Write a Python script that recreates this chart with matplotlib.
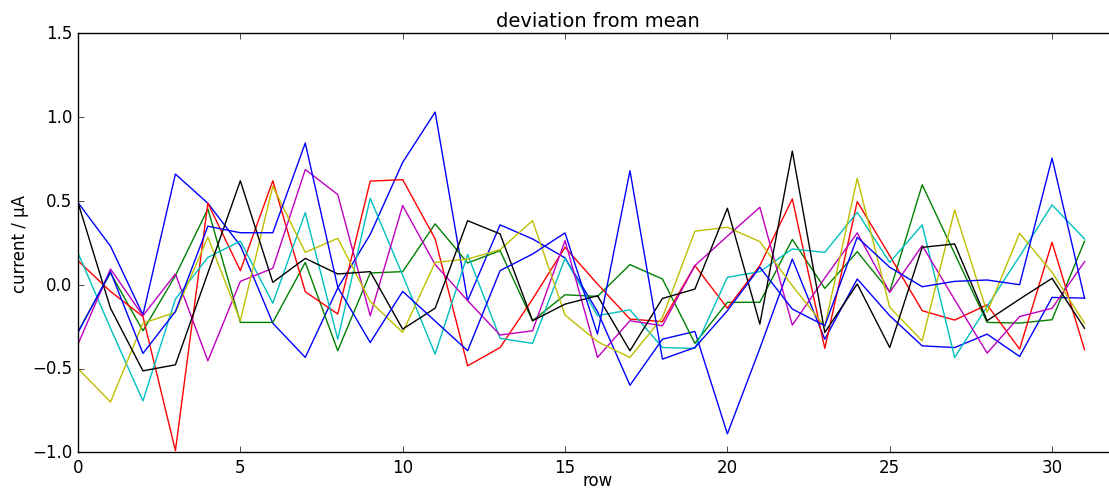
import matplotlib
matplotlib.use("Agg")
import matplotlib.pyplot as plt
import numpy as np

# deviation of each channel's current from the mean, per row
rows = np.arange(32)

dev_b1 = [0.49, 0.23, -0.18, 0.66, 0.486, 0.233, -0.23, -0.434, -0.02, 0.30,
          0.73, 1.03, -0.096, 0.357, 0.273, 0.16, -0.16, -0.60, -0.325, -0.279,
          -0.89, -0.38, 0.153, -0.325, 0.034, -0.185, -0.365, -0.375, -0.295, -0.428,
          -0.076, -0.08]
dev_g = [-0.28, 0.07, -0.275, 0.054, 0.452, -0.225, -0.225, 0.133, -0.394, 0.07,
         0.078, 0.363, 0.13, 0.203, -0.215, -0.06, -0.07, 0.12, 0.034, -0.35,
         -0.105, -0.105, 0.27, -0.022, 0.197, -0.042, 0.596, 0.185, -0.225, -0.229,
         -0.209, 0.259]
dev_r = [0.143, -0.04, -0.19, -0.99, 0.486, 0.084, 0.62, -0.042, -0.175, 0.618,
         0.627, 0.273, -0.484, -0.375, -0.086, 0.223, 0.004, -0.205, -0.22, 0.114,
         -0.14, 0.114, 0.512, -0.38, 0.496, 0.173, -0.155, -0.211, -0.12, -0.384,
         0.253, -0.388]
dev_c = [0.19, -0.26, -0.693, -0.086, 0.163, 0.26, -0.11, 0.43, -0.325, 0.516,
         0.056, -0.414, 0.18, -0.32, -0.35, 0.157, -0.185, -0.15, -0.375, -0.38,
         0.044, 0.078, 0.213, 0.193, 0.432, 0.133, 0.357, -0.434, -0.13, 0.17,
         0.476, 0.273]
dev_m = [-0.355, 0.094, -0.185, 0.064, -0.454, 0.02, 0.098, 0.687, 0.538, -0.185,
         0.472, 0.12, -0.095, -0.30, -0.275, 0.263, -0.434, -0.215, -0.245, 0.114,
         0.29, 0.462, -0.241, 0.04, 0.309, -0.046, 0.233, -0.09, -0.408, -0.19,
         -0.141, 0.137]
dev_y = [-0.50, -0.70, -0.23, -0.165, 0.283, -0.215, 0.588, 0.193, 0.277, -0.10,
         -0.285, 0.133, 0.153, 0.209, 0.382, -0.181, -0.34, -0.434, -0.195, 0.319,
         0.343, 0.257, -0.006, -0.25, 0.635, -0.135, -0.335, 0.446, -0.165, 0.307,
         0.074, -0.23]
dev_k = [0.49, -0.14, -0.514, -0.478, 0.07, 0.62, 0.014, 0.157, 0.064, 0.078,
         -0.265, -0.14, 0.382, 0.303, -0.215, -0.116, -0.066, -0.394, -0.082, -0.026,
         0.456, -0.235, 0.797, -0.285, 0.004, -0.375, 0.223, 0.243, -0.215, -0.086,
         0.038, -0.26]
dev_b2 = [-0.285, 0.078, -0.41, -0.16, 0.349, 0.31, 0.31, 0.845, -0.015, -0.345,
          -0.04, -0.217, -0.394, 0.084, 0.183, 0.309, -0.295, 0.68, -0.444, -0.375,
          -0.155, 0.104, -0.145, -0.245, 0.283, 0.104, -0.012, 0.02, 0.028, 0.0,
          0.755, -0.08]

series = [dev_b1, dev_g, dev_r, dev_c, dev_m, dev_y, dev_k, dev_b2]

plt.style.use("classic")
plt.rcParams["savefig.facecolor"] = "white"

fig = plt.figure(figsize=(11.09, 4.89), dpi=100, facecolor="white")
# axes runs past the right edge of the figure
ax = fig.add_axes([78 / 1109, 35.7 / 489, (1117 - 78) / 1109, 419 / 489])

for s in series:
    ax.plot(rows, s, linewidth=1.0)

ax.set_xlim(0, 32)
ax.set_ylim(-1.0, 1.5)
ax.set_xticks([0, 5, 10, 15, 20, 25, 30])
ax.set_yticks([-1.0, -0.5, 0.0, 0.5, 1.0, 1.5])
ax.tick_params(labelsize=12)

ax.set_title("deviation from mean", fontsize=14)
ax.set_xlabel("row", fontsize=12)
ax.xaxis.set_label_coords(0.5, -0.045)
ax.set_ylabel("current / µA", fontsize=12)
ax.yaxis.set_label_coords(-0.047, 0.5)

fig.savefig("out.png", dpi=100, facecolor="white")
